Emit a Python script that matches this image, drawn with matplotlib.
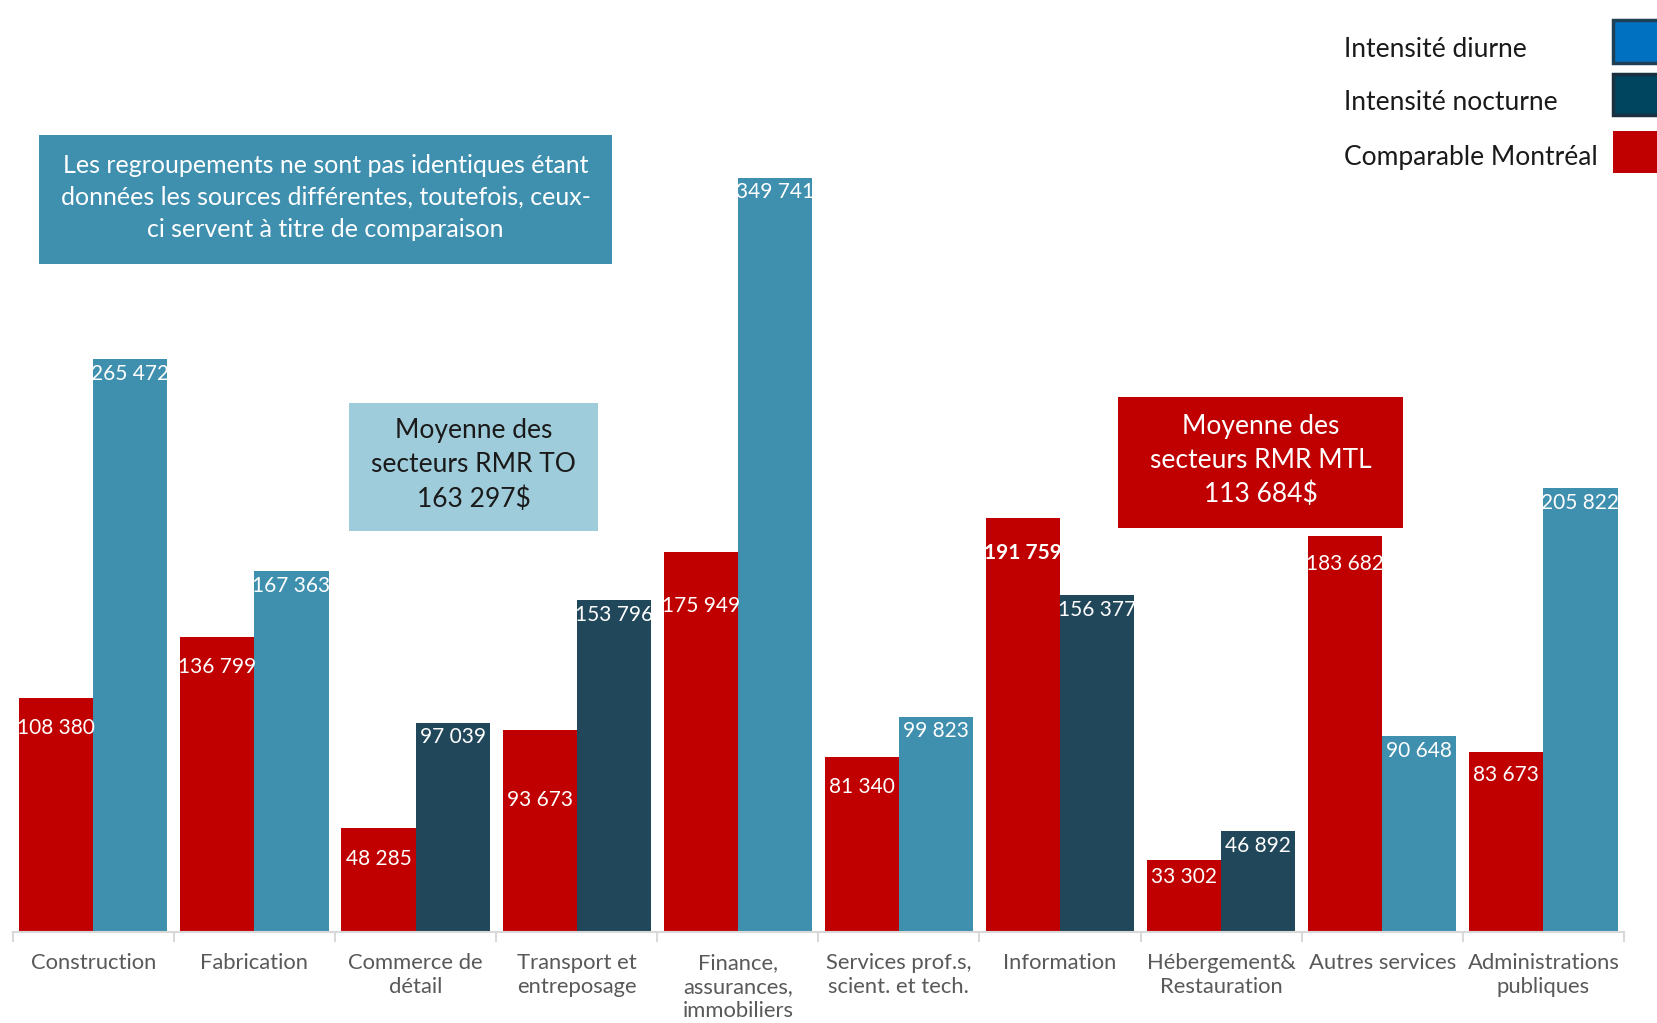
import matplotlib
matplotlib.use("Agg")
import matplotlib.pyplot as plt
from matplotlib.patches import Rectangle
import numpy as np

# ---------------- data ----------------
categories = ["Construction", "Fabrication", "Commerce de\ndétail", "Transport et\nentreposage",
              "Finance,\nassurances,\nimmobiliers", "Services prof.s,\nscient. et tech.",
              "Information", "Hébergement&\nRestauration", "Autres services",
              "Administrations\npubliques"]
montreal = [108380, 136799, 48285, 93673, 175949, 81340, 191759, 33302, 183682, 83673]
toronto = [265472, 167363, 97039, 153796, 349741, 99823, 156377, 46892, 90648, 205822]
intensity = ["diurne", "diurne", "nocturne", "nocturne", "diurne", "diurne",
             "nocturne", "nocturne", "diurne", "diurne"]
legend_labels = ["Intensité diurne", "Intensité nocturne", "Comparable Montréal"]
note_text = ("Les regroupements ne sont pas identiques étant\n"
             "données les sources différentes, toutefois, ceux-\n"
             "ci servent à titre de comparaison")
avg_to_text = "Moyenne des\nsecteurs RMR TO\n163 297$"
avg_mtl_text = "Moyenne des\nsecteurs RMR MTL\n113 684$"

# ---------------- style ----------------
RED = "#C00000"
LIGHT = "#3F8FAF"
DARK = "#21475A"
BOX_LIGHT = "#9FCCDB"
LEG_DIURNE = "#0070C0"
LEG_NOCT = "#00455F"
GRAY = "#595959"

plt.rcParams["font.family"] = ["Lato", "DejaVu Sans"]

W, H = 1657, 1023
fig = plt.figure(figsize=(W / 100, H / 100), dpi=100)

def fx(x):
    return x / W

def fy(y):
    return 1 - y / H

# axes: x from 12.7 to 1624 px, baseline at y=932, top at 0
ax_left, ax_right, ax_base = 12.7, 1624, 932
ax = fig.add_axes([fx(ax_left), fy(ax_base), (ax_right - ax_left) / W, ax_base / H])
ax.set_xlim(0, 10)
ax.set_ylim(0, 432100)

idx = np.arange(len(categories))
bw = 0.46
red_x = idx + 0.5 - bw / 2
blue_x = idx + 0.5 + bw / 2
blue_colors = [LIGHT if t == "diurne" else DARK for t in intensity]

ax.bar(red_x, montreal, width=bw, color=RED, edgecolor="none", zorder=2)
ax.bar(blue_x, toronto, width=bw, color=blue_colors, edgecolor="none", zorder=2)

# value labels (offsets in points below bar top)
red_offsets = [28, 28, 29, 66, 51, 29, 33, 16, 27, 22]
for i, v in enumerate(montreal):
    lab = f"{v:,}".replace(",", " ")
    off = red_offsets[i] * 1.057 * 0.72
    ax.annotate(lab, (red_x[i], v), xytext=(0, -off), textcoords="offset points",
                ha="center", va="center", color="white", fontsize=15,
                fontweight="bold" if i == 6 else "normal", zorder=3)
for i, v in enumerate(toronto):
    lab = f"{v:,}".replace(",", " ")
    off = 14 * 1.057 * 0.72
    ax.annotate(lab, (blue_x[i], v), xytext=(0, -off), textcoords="offset points",
                ha="center", va="center", color="white", fontsize=15, zorder=3)

# axes styling
for s in ["top", "right", "left"]:
    ax.spines[s].set_visible(False)
ax.spines["bottom"].set_color("#D9D9D9")
ax.spines["bottom"].set_linewidth(1.5)
ax.set_yticks([])
ax.set_xticks(idx + 0.5)
ax.set_xticklabels(categories, fontsize=15.8, color=GRAY, linespacing=1.25, va="top")
ax.tick_params(axis="x", which="major", length=0, pad=15)
ax.set_xticks(np.arange(0, 11), minor=True)
ax.tick_params(axis="x", which="minor", length=7, color="#D9D9D9", width=1.5)

# note box
def box(x0, y0, x1, y1, color, text, tcolor, size, ls):
    fig.patches.append(Rectangle((fx(x0), fy(y1)), (x1 - x0) / W, (y1 - y0) / H,
                                 transform=fig.transFigure, facecolor=color,
                                 edgecolor="none", zorder=5))
    fig.text(fx((x0 + x1) / 2), fy((y0 + y1) / 2 - 2), text, ha="center", va="center",
             color=tcolor, fontsize=size, linespacing=ls, zorder=6)

box(39, 135, 612, 264, LIGHT, note_text, "white", 18, 1.45)
box(349, 403, 598, 531, BOX_LIGHT, avg_to_text, "#1A1A1A", 19, 1.45)
box(1118, 397, 1403, 528, RED, avg_mtl_text, "white", 19, 1.45)

# legend (manual)
leg_y = [49.5, 103, 157]
leg_boxes = [(20, 63), (74, 115), (131, 173)]
leg_face = [LEG_DIURNE, LEG_NOCT, RED]
leg_edge = ["#1F3F55", "#1A3040", "none"]
for lab, yy, (b0, b1), fc, ec in zip(legend_labels, leg_y, leg_boxes, leg_face, leg_edge):
    fig.text(fx(1344), fy(yy), lab, ha="left", va="center", fontsize=19, color="#1A1A1A")
    fig.patches.append(Rectangle((fx(1613), fy(b1)), (W - 1613 + 5) / W, (b1 - b0) / H,
                                 transform=fig.transFigure, facecolor=fc,
                                 edgecolor=ec, linewidth=2.5 if ec != "none" else 0))

fig.savefig("out.png", dpi=100)
